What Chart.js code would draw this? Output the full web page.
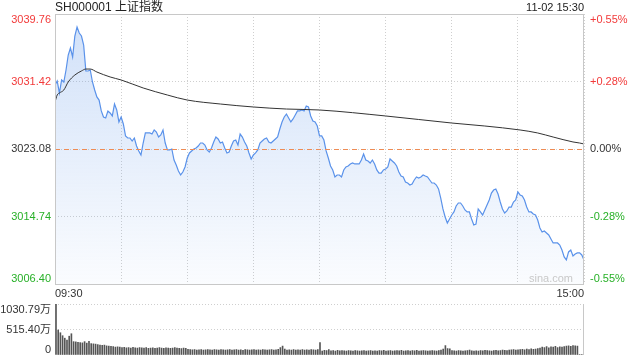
<!DOCTYPE html>
<html>
<head>
<meta charset="utf-8">
<script src="https://cdn.jsdelivr.net/npm/chart.js@4.4.1/dist/chart.umd.min.js"></script>
<style>
  body { margin: 0; background: #fff; }
  .wrap { position: relative; width: 640px; height: 360px; }
  #priceChart { position: absolute; left: 0; top: 0; }
  #volChart { position: absolute; left: 0; top: 296px; }
</style>
</head>
<body>
<div class="wrap">
  <canvas id="priceChart" width="640" height="300"></canvas>
  <canvas id="volChart" width="640" height="64"></canvas>
</div>
<script>
//종목 정보
const stockName = 'SH000001 上证指数';
const stampText = '11-02 15:30';
const timeLabels = ['09:30', '15:00'];
const prevClose = 3023.08;

//축 눈금
const priceTicks = [3006.40, 3014.74, 3023.08, 3031.42, 3039.76];
const volTicks = [0, 515.40, 1030.79];
const gridMinutes = [0, 30, 60, 90, 120, 150, 180, 210, 240];

//분당 가격 (09:30 ~ 15:00)
const prices = [
  3030.99, 3031.48, 3030.00, 3031.61, 3031.36, 3032.84, 3034.69, 3035.56, 3034.45, 3037.04,
  3038.15, 3037.41, 3037.04, 3035.93, 3032.72, 3032.72, 3032.84, 3031.36, 3030.37, 3029.51,
  3029.13, 3027.78, 3027.04, 3026.91, 3027.78, 3027.53, 3027.16, 3028.64, 3027.90, 3026.42,
  3027.04, 3026.17, 3024.69, 3024.44, 3024.44, 3024.07, 3024.44, 3023.45, 3022.84, 3022.34,
  3023.82, 3025.06, 3025.06, 3025.06, 3024.93, 3025.43, 3025.18, 3024.56, 3024.81, 3025.43,
  3023.82, 3022.96, 3022.96, 3023.08, 3021.72, 3021.10, 3020.36, 3019.87, 3020.24, 3020.86,
  3021.97, 3022.59, 3022.84, 3023.08, 3023.20, 3023.45, 3023.82, 3023.82, 3023.57, 3022.96,
  3022.71, 3023.20, 3023.95, 3024.56, 3024.32, 3023.82, 3023.95, 3023.20, 3022.59, 3022.71,
  3023.45, 3024.07, 3024.19, 3023.57, 3024.93, 3024.56, 3023.95, 3023.45, 3022.59, 3021.85,
  3022.34, 3022.59, 3022.96, 3023.82, 3024.07, 3024.32, 3024.44, 3023.95, 3023.82, 3024.07,
  3024.32, 3024.56, 3025.55, 3026.42, 3027.04, 3027.40, 3026.91, 3026.42, 3026.79, 3027.28,
  3027.78, 3027.78, 3027.90, 3027.78, 3028.39, 3028.27, 3027.16, 3026.54, 3026.42, 3025.92,
  3024.69, 3024.69, 3024.19, 3022.84, 3021.97, 3020.98, 3020.49, 3019.62, 3019.87, 3019.87,
  3019.62, 3020.49, 3020.86, 3020.98, 3021.23, 3021.35, 3021.23, 3021.23, 3021.23, 3021.72,
  3022.46, 3021.72, 3021.60, 3021.35, 3021.72, 3021.23, 3020.49, 3020.11, 3020.11, 3020.49,
  3020.61, 3020.86, 3021.85, 3021.60, 3021.35, 3020.98, 3020.24, 3019.74, 3019.62, 3019.00,
  3018.88, 3018.63, 3018.76, 3019.25, 3019.62, 3019.50, 3019.62, 3019.87, 3019.74, 3019.62,
  3019.25, 3018.88, 3018.88, 3018.63, 3018.14, 3017.02, 3015.67, 3014.68, 3013.94, 3014.43,
  3014.93, 3015.30, 3016.04, 3016.41, 3016.41, 3016.04, 3015.55, 3015.30, 3015.30, 3014.43,
  3013.69, 3013.81, 3015.67, 3015.30, 3014.93, 3015.55, 3016.16, 3016.78, 3017.64, 3018.01,
  3018.14, 3017.52, 3016.53, 3015.67, 3015.17, 3015.42, 3015.91, 3015.91, 3016.53, 3016.78,
  3017.77, 3017.40, 3017.27, 3016.78, 3015.91, 3015.30, 3015.30, 3015.05, 3014.93, 3014.31,
  3013.32, 3012.83, 3012.95, 3012.71, 3012.46, 3011.96, 3011.47, 3011.47, 3011.47, 3011.22,
  3010.60, 3009.74, 3009.37, 3010.36, 3010.60, 3009.86, 3010.11, 3010.24, 3010.24, 3009.99,
  3009.37
];

//균선 (분, 가격)
const avgMinutes = [0, 1, 2, 4, 6, 9, 12, 14, 16, 19, 25, 30, 40, 51, 60, 75, 90, 105, 120, 150, 180, 195, 211, 219, 226, 235, 238, 240];
const avgPrices = [3028.89, 3029.75, 3030.00, 3030.37, 3031.36, 3032.22, 3032.72, 3032.96, 3032.96, 3032.59, 3031.98, 3031.61, 3030.62, 3029.75, 3029.13, 3028.64, 3028.27, 3028.02, 3027.90, 3027.16, 3026.29, 3025.92, 3025.43, 3025.06, 3024.56, 3023.95, 3023.82, 3023.70];

//거래량 (만)
const volumes = [
  1030.79, 505, 450, 390, 340, 300, 380, 430, 270, 265,
  255, 250, 245, 270, 240, 275, 230, 225, 220, 210,
  200, 195, 200, 185, 180, 175, 170, 160, 165, 160,
  150, 155, 145, 150, 140, 155, 145, 140, 150, 145,
  140, 150, 135, 140, 145, 135, 140, 150, 140, 135,
  145, 140, 135, 140, 150, 140, 135, 130, 140, 135,
  115, 110, 105, 110, 100, 105, 110, 100, 105, 110,
  105, 100, 110, 105, 100, 110, 105, 100, 105, 110,
  100, 105, 110, 100, 105, 95, 110, 105, 100, 105,
  110, 100, 105, 100, 110, 105, 100, 105, 110, 100,
  105, 115, 150, 180, 120, 100, 105, 100, 110, 100,
  105, 100, 110, 100, 105, 100, 110, 105, 100, 110,
  250, 80, 95, 90, 110, 85, 90, 80, 95, 85,
  90, 85, 80, 90, 85, 80, 90, 85, 80, 85,
  90, 80, 85, 90, 80, 85, 80, 90, 85, 95,
  80, 85, 90, 80, 85, 90, 85, 95, 80, 85,
  90, 80, 90, 85, 95, 80, 85, 90, 85, 80,
  85, 90, 85, 80, 90, 100, 120, 190, 130, 125,
  90, 85, 80, 90, 85, 80, 85, 90, 100, 85,
  80, 85, 80, 90, 85, 95, 90, 85, 80, 90,
  95, 85, 90, 100, 95, 90, 100, 105, 110, 100,
  105, 110, 115, 105, 120, 110, 125, 115, 120, 130,
  140, 160, 150, 170, 145, 165, 160, 175, 150, 165,
  160, 170, 180, 185, 175, 190, 185, 180, 10, 10,
  300
];

const FONT = '"Liberation Sans", Arial, "Noto Sans CJK SC", sans-serif';
Chart.defaults.font.family = FONT;

const RED = '#f23a3a';
const GREEN = '#27b027';
const GRID = '#cfcfcf';

function colorOf(v) {
  if (v > prevClose + 0.001) return RED;
  if (v < prevClose - 0.001) return GREEN;
  return '#333';
}

function pctText(v) {
  const pct = (v - prevClose) / prevClose * 100;
  if (Math.abs(pct) < 0.005) return '0.00%';
  return (pct > 0 ? '+' : '') + pct.toFixed(2) + '%';
}

//틀, 전일종가 선
const framePlugin = {
  id: 'frame',
  afterDatasetsDraw(chart) {
    const {ctx, chartArea} = chart;
    const py = Math.round(chart.scales.y.getPixelForValue(prevClose)) + 0.5;
    ctx.save();
    ctx.strokeStyle = '#ee8c55';
    ctx.lineWidth = 1;
    ctx.setLineDash([5, 4]);
    ctx.beginPath();
    ctx.moveTo(chartArea.left, py);
    ctx.lineTo(chartArea.right, py);
    ctx.stroke();
    ctx.restore();
  },
  afterDraw(chart) {
    const {ctx, chartArea} = chart;
    ctx.save();
    ctx.strokeStyle = '#c8c8c8';
    ctx.lineWidth = 1;
    ctx.strokeRect(Math.round(chartArea.left) + 0.5, Math.round(chartArea.top) + 0.5,
      Math.round(chartArea.right - chartArea.left) - 1, Math.round(chartArea.bottom - chartArea.top));
    ctx.restore();
  }
};

//좌우 라벨, 제목
const labelPlugin = {
  id: 'sideLabels',
  afterDraw(chart) {
    const {ctx, chartArea} = chart;
    const y = chart.scales.y;
    ctx.save();
    ctx.font = '11px ' + FONT;
    priceTicks.forEach((v, i) => {
      const py = y.getPixelForValue(v);
      ctx.textBaseline = i === 0 ? 'bottom' : (i === priceTicks.length - 1 ? 'top' : 'middle');
      ctx.fillStyle = colorOf(v);
      ctx.textAlign = 'right';
      ctx.fillText(v.toFixed(2), chartArea.left - 4, py);
      ctx.textAlign = 'left';
      ctx.fillText(pctText(v), chartArea.right + 6, py);
    });
    //sina 워터마크
    ctx.fillStyle = '#c9c9c9';
    ctx.textAlign = 'right';
    ctx.textBaseline = 'middle';
    ctx.fillText('sina.com', chartArea.right - 11, chartArea.bottom - 5);
    //제목
    ctx.fillStyle = '#222';
    ctx.font = '12px ' + FONT;
    ctx.textAlign = 'left';
    ctx.fillText(stockName, chartArea.left, 7.5);
    ctx.font = '11px ' + FONT;
    ctx.textAlign = 'right';
    ctx.fillText(stampText, chartArea.right, 8);
    ctx.restore();
  }
};

//가격 그래프
const priceChart = new Chart(document.getElementById('priceChart'), {
  type: 'line',
  data: {
    datasets: [{
      data: prices.map((p, i) => ({x: i, y: p})),
      borderColor: '#5a92ea',
      borderWidth: 1.2,
      pointRadius: 0,
      fill: 'start',
      backgroundColor: (c) => {
        const area = c.chart.chartArea;
        if (!area) return 'rgba(120,165,235,0.2)';
        const g = c.chart.ctx.createLinearGradient(0, area.top, 0, area.bottom);
        g.addColorStop(0, 'rgba(110,160,235,0.32)');
        g.addColorStop(1, 'rgba(110,160,235,0.03)');
        return g;
      },
      order: 1
    }, {
      data: avgMinutes.map((m, i) => ({x: m, y: avgPrices[i]})),
      borderColor: '#333',
      borderWidth: 1,
      pointRadius: 0,
      cubicInterpolationMode: 'monotone',
      fill: false,
      order: 0
    }]
  },
  options: {
    responsive: false,
    animation: false,
    layout: { padding: { top: 14 } },
    plugins: { legend: { display: false }, tooltip: { enabled: false } },
    scales: {
      x: {
        type: 'linear',
        min: 0,
        max: 240,
        afterBuildTicks: (s) => { s.ticks = gridMinutes.map(v => ({value: v})); },
        ticks: {
          autoSkip: false,
          maxRotation: 0,
          align: 'inner',
          padding: 3,
          color: '#333',
          font: { size: 11 },
          callback: (v) => v === 0 ? timeLabels[0] : (v === 240 ? timeLabels[1] : '')
        },
        grid: { color: GRID, drawTicks: false },
        border: { display: false, dash: [1, 2] },
        afterFit: (s) => { s.height = 16; }
      },
      y: {
        min: priceTicks[0],
        max: priceTicks[priceTicks.length - 1],
        afterBuildTicks: (s) => { s.ticks = priceTicks.map(v => ({value: v})); },
        ticks: { display: false },
        grid: { color: GRID, drawTicks: false },
        border: { display: false, dash: [1, 2] },
        afterFit: (s) => { s.width = 55; }
      },
      y2: {
        position: 'right',
        min: priceTicks[0],
        max: priceTicks[priceTicks.length - 1],
        ticks: { display: false },
        grid: { display: false },
        border: { display: false },
        afterFit: (s) => { s.width = 56; }
      }
    }
  },
  plugins: [framePlugin, labelPlugin]
});

//거래량 라벨
const volLabelPlugin = {
  id: 'volLabels',
  afterDraw(chart) {
    const {ctx, chartArea} = chart;
    const y = chart.scales.y;
    ctx.save();
    ctx.font = '11px ' + FONT;
    ctx.fillStyle = '#333';
    ctx.textAlign = 'right';
    volTicks.forEach((v, i) => {
      const py = y.getPixelForValue(v);
      ctx.textBaseline = i === 0 ? 'bottom' : (i === volTicks.length - 1 ? 'top' : 'middle');
      ctx.fillText(v === 0 ? '0' : v.toFixed(2) + '万', chartArea.left - 4, py);
    });
    //오른쪽 테두리
    ctx.strokeStyle = '#c8c8c8';
    ctx.beginPath();
    ctx.moveTo(Math.round(chartArea.right) - 0.5, chartArea.top);
    ctx.lineTo(Math.round(chartArea.right) - 0.5, chartArea.bottom);
    ctx.stroke();
    ctx.restore();
  }
};

//거래량 그래프
const volChart = new Chart(document.getElementById('volChart'), {
  type: 'bar',
  data: {
    datasets: [{
      data: volumes.map((v, i) => ({x: i, y: v})),
      backgroundColor: '#555555',
      barThickness: 1
    }]
  },
  options: {
    responsive: false,
    animation: false,
    layout: { padding: { top: 8, bottom: 5, right: 56 } },
    plugins: { legend: { display: false }, tooltip: { enabled: false } },
    scales: {
      //첫 막대가 테두리에 잘리지 않도록 살짝 여백
      x: { type: 'linear', min: -0.45, max: 240, offset: false, display: false },
      y: {
        min: 0,
        max: volTicks[volTicks.length - 1],
        afterBuildTicks: (s) => { s.ticks = volTicks.map(v => ({value: v})); },
        ticks: { display: false },
        grid: { color: (c) => c.tick && c.tick.value === 0 ? 'rgba(0,0,0,0)' : GRID, drawTicks: false },
        border: { display: false, dash: [1, 2] },
        afterFit: (s) => { s.width = 55; }
      }
    }
  },
  plugins: [volLabelPlugin]
});
</script>
</body>
</html>
